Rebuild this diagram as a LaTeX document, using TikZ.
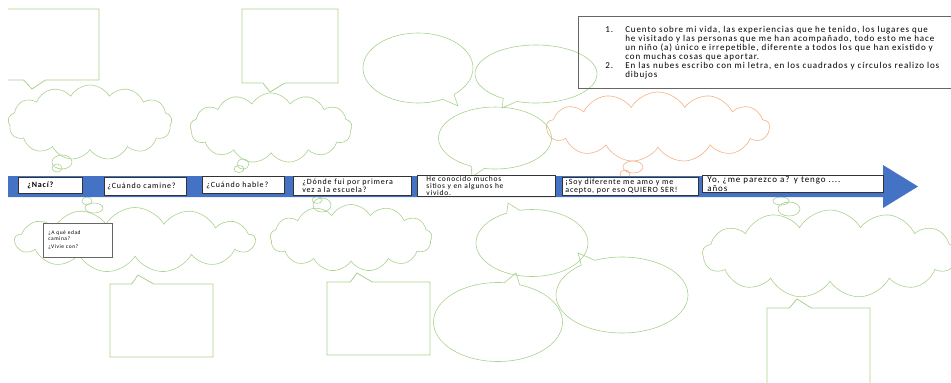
\documentclass[tikz,border=0pt]{standalone}
\usepackage{fontspec}
\setmainfont{Carlito}[LetterSpace=10]
\usetikzlibrary{arrows,shapes}
\definecolor{bandblue}{HTML}{4472C4}
\definecolor{leafgreen}{HTML}{A9D18E}
\definecolor{peach}{HTML}{F4B183}

\begin{document}
\begin{tikzpicture}[x=1pt,y=-1pt,
  lbl/.style={draw=black!80,fill=white,line width=0.8pt,anchor=north west,inner xsep=4pt,inner ysep=1pt,
    align=left,font=\fontsize{8}{7.5}\selectfont},
  thought/.style={cloud,draw=#1,line width=0.6pt,cloud puffs=13,cloud puff arc=120,cloud ignores aspect,inner sep=0pt},
  thought/.default=leafgreen,
  bubble/.style={ellipse callout,draw=leafgreen,line width=0.6pt,callout pointer arc=14,inner sep=0pt},
  frame/.style={rectangle callout,draw=leafgreen,line width=0.8pt,callout pointer width=22pt,inner sep=0pt}]
\useasboundingbox (0,0) rectangle (951,383);
\clip (8,0) rectangle (951,383);

% pictures
\node [frame,minimum width=109pt,minimum height=71pt,callout absolute pointer={(32,89)}] (pic1) at (44.5,44.5) {};
\node [frame,minimum width=96pt,minimum height=74pt,callout absolute pointer={(270,92)}] (pic2) at (290,46) {};
\node [frame,minimum width=103pt,minimum height=73pt,callout absolute pointer={(138,275)}] (pic3) at (161.5,320.5) {};
\node [frame,minimum width=103pt,minimum height=73pt,callout absolute pointer={(357,273)}] (pic4) at (378.5,318.5) {};
\node [frame,minimum width=103pt,minimum height=100pt,callout absolute pointer={(797,299)}] (pic5) at (818.5,358) {};

% clouds
\node [thought,minimum width=164pt,minimum height=75pt] (cloudA) at (90,122.5) {};
\node [thought,minimum width=162pt,minimum height=70pt] (cloudB) at (271,128) {};
\node [thought=peach,minimum width=223pt,minimum height=70pt] (cloudC) at (658,127) {};
\node [thought,minimum width=240pt,minimum height=65pt] (cloudD) at (135,240) {};
\node [thought,minimum width=162pt,minimum height=67pt] (cloudE) at (351,238) {};
\node [thought,minimum width=255pt,minimum height=88pt] (cloudF) at (830,254) {};
% little puffs
\begin{scope}[draw=leafgreen,line width=0.6pt]
  \draw (62,162) ellipse [x radius=10pt,y radius=7pt] (57,168) ellipse [x radius=5pt,y radius=4pt];
  \draw (243,164) ellipse [x radius=6pt,y radius=5pt] (239,169) ellipse [x radius=5pt,y radius=3.5pt];
  \draw (94,208) ellipse [x radius=9pt,y radius=5pt] (87,201) ellipse [x radius=5pt,y radius=4pt];
  \draw (322,205) ellipse [x radius=9pt,y radius=7pt] (317,200) ellipse [x radius=5pt,y radius=3.5pt];
  \draw (789,209) ellipse [x radius=11pt,y radius=7pt] (781,201) ellipse [x radius=8pt,y radius=4pt];
  \draw [peach] (633,167) ellipse [x radius=10pt,y radius=6pt] (625,174) ellipse [x radius=5pt,y radius=4pt];
\end{scope}

% speech bubbles
\node [bubble,minimum width=110pt,minimum height=70pt,callout absolute pointer={(458,106)}] (talk1) at (418,68) {};
\node [bubble,minimum width=122pt,minimum height=58pt,callout absolute pointer={(502,108)}] (talk2) at (536,74) {};
\node [bubble,minimum width=113pt,minimum height=62pt,callout absolute pointer={(472,177)}] (talk3) at (495,138) {};
\node [bubble,minimum width=112pt,minimum height=67pt,callout absolute pointer={(508,203)}] (talk4) at (532,243) {};
\node [bubble,minimum width=129pt,minimum height=79pt,callout absolute pointer={(516,273)}] (talk5) at (498,322) {};
\node [bubble,minimum width=132pt,minimum height=76pt,callout absolute pointer={(578,253)}] (talk6) at (622,295) {};

% time line
\fill [bandblue] (8,176) -- (883,176) -- (883,165) -- (918,186.5) -- (883,208) -- (883,197) -- (8,197) -- cycle;
\node [lbl,text width=46pt,inner xsep=9pt,minimum height=16pt,font=\fontsize{8}{7.5}\selectfont\bfseries] (naci) at (18,177) {¿Nací?};
\node [lbl,text width=76pt,inner xsep=3pt,minimum height=18pt] (camine) at (104,177) {¿Cuándo camine?};
\node [lbl,text width=74pt,minimum height=17pt] (hable) at (202,176) {¿Cuándo hable?};
\node [lbl,text width=100pt,inner xsep=9pt,minimum height=19pt] (escuela) at (293,176) {¿Dónde fui por primera\\vez a la escuela?};
\node [lbl,text width=120pt,inner xsep=9pt,inner ysep=0pt,minimum height=21pt,font=\fontsize{7.5}{7}\selectfont] (sitios) at (417,175) {He conocido muchos\\sitios y en algunos he\\vivido.};
\node [lbl,text width=130pt,inner xsep=3pt,minimum height=18pt] (quiero) at (562,177) {¡Soy diferente me amo y me\\acepto, por eso QUIERO SER!};
\node [lbl,text width=171pt,inner xsep=5pt,minimum height=16pt,font=\fontsize{9}{8.5}\selectfont] (tengo) at (702,175) {Yo, ¿me parezco a? y tengo ....\\años};

\node [lbl,draw=black!60,line width=0.5pt,text width=59pt,inner xsep=5pt,minimum height=34pt,inner ysep=3pt,
  font=\fontsize{5.5}{6}\selectfont] (edad) at (43,223) {¿A qué edad\\camina?\\[2pt]¿Vivie con?};

% indications
\node [draw=black!60,line width=0.6pt,anchor=north west,inner xsep=0pt,inner ysep=2pt,minimum height=72pt,
  text width=380pt,font=\fontsize{9}{9}\selectfont] (nota) at (578,16)
  {\raggedright
   {\hangindent=47pt\hangafter=1\noindent\hspace*{27pt}\makebox[20pt][l]{1.}Cuento sobre mi vida, las experiencias que he tenido, los lugares que\newline
    he visitado y las personas que me han acompañado, todo esto me hace\newline
    un niño (a) único e irrepetible, diferente a todos los que han existido y\newline
    con muchas cosas que aportar.\par}
   {\hangindent=47pt\hangafter=1\noindent\hspace*{27pt}\makebox[20pt][l]{2.}En las nubes escribo con mi letra, en los cuadrados y círculos realizo los\newline
    dibujos\par}};
\end{tikzpicture}
\end{document}
